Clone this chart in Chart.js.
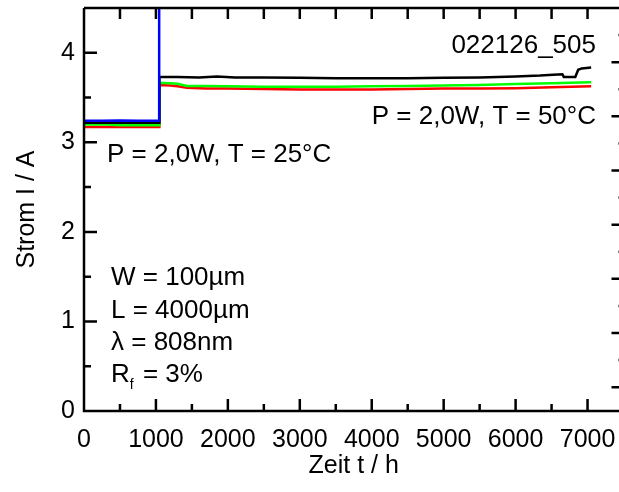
<!DOCTYPE html>
<html>
<head>
<meta charset="utf-8">
<script src="https://cdn.jsdelivr.net/npm/chart.js@4.4.1/dist/chart.umd.min.js"></script>
<style>
    html, body { margin: 0; padding: 0; background: #fff; overflow: hidden; }
    #wrap { width: 626px; height: 492px; }
</style>
</head>
<body>
<div id="wrap"><canvas id="chart"></canvas></div>
<script>
const blueTimes = [0, 250, 500, 750, 1040, 1043, 1045];
const blueValues = [3.24, 3.24, 3.245, 3.24, 3.24, 3.24, 4.8];

const blackTimes = [0, 300, 600, 900, 1043, 1048, 1300, 1600, 1850, 2100, 2500, 3000, 3500, 4000, 4500, 5000, 5500, 6000, 6340, 6520, 6650, 6670, 6830, 6870, 6920, 7050];
const blackValues = [3.22, 3.22, 3.22, 3.22, 3.22, 3.73, 3.73, 3.725, 3.735, 3.725, 3.725, 3.72, 3.715, 3.715, 3.715, 3.72, 3.725, 3.735, 3.745, 3.755, 3.76, 3.73, 3.73, 3.81, 3.825, 3.835];

const greenTimes = [0, 300, 500, 700, 1043, 1048, 1200, 1300, 1430, 1700, 2000, 2500, 3000, 3500, 4000, 4500, 5000, 5500, 6000, 6500, 7050];
const greenValues = [3.2, 3.2, 3.19, 3.19, 3.19, 3.665, 3.66, 3.655, 3.63, 3.63, 3.625, 3.62, 3.62, 3.62, 3.625, 3.63, 3.635, 3.64, 3.65, 3.66, 3.67];

const redTimes = [0, 300, 500, 700, 1043, 1048, 1200, 1300, 1430, 1700, 2000, 2500, 3000, 3500, 4000, 4500, 5000, 5500, 6000, 6500, 7050];
const redValues = [3.17, 3.17, 3.17, 3.17, 3.17, 3.64, 3.635, 3.625, 3.61, 3.6, 3.6, 3.595, 3.59, 3.59, 3.59, 3.595, 3.6, 3.6, 3.605, 3.615, 3.625];

const xTicks = [0, 1000, 2000, 3000, 4000, 5000, 6000, 7000];
const xMinorTicks = [500, 1500, 2500, 3500, 4500, 5500, 6500];
const yTicks = [0, 1, 2, 3, 4];
const yMinorTicks = [0.5, 1.5, 2.5, 3.5];
const y2Ticks = [1, 2, 3, 4, 5, 6, 7, 8];
const y2MinorTicks = [1.5, 2.5, 3.5, 4.5, 5.5, 6.5, 7.5];

const FONT = 'Liberation Sans, Arial, sans-serif';

function toPoints(times, values) {
    return times.map((t, i) => ({ x: t, y: values[i] }));
}

function series(label, times, values, color) {
    return {
        label: label,
        data: toPoints(times, values),
        borderColor: color,
        backgroundColor: color,
        borderWidth: 2.5,
        pointRadius: 0,
        tension: 0,
        fill: false
    };
}

// Rahmen mit nach innen zeigenden Ticks und Beschriftungen im Diagramm
const framePlugin = {
    id: 'frame',
    afterDraw(chart) {
        const ctx = chart.ctx;
        const a = chart.chartArea;
        const xs = chart.scales.x;
        const ys = chart.scales.y;
        const y2 = chart.scales.y2;
        ctx.save();
        ctx.strokeStyle = '#000';
        ctx.lineWidth = 2.5;
        ctx.lineCap = 'butt';

        ctx.beginPath();
        ctx.moveTo(a.left, a.top);
        ctx.lineTo(a.left, a.bottom);
        ctx.lineTo(a.right, a.bottom);
        ctx.moveTo(a.left, a.top);
        ctx.lineTo(a.right, a.top);
        ctx.moveTo(a.right, a.top);
        ctx.lineTo(a.right, a.bottom);

        // unten + oben
        xTicks.forEach(v => {
            const px = xs.getPixelForValue(v);
            ctx.moveTo(px, a.bottom); ctx.lineTo(px, a.bottom - 12);
            ctx.moveTo(px, a.top); ctx.lineTo(px, a.top + 11);
        });
        xMinorTicks.forEach(v => {
            const px = xs.getPixelForValue(v);
            ctx.moveTo(px, a.bottom); ctx.lineTo(px, a.bottom - 7);
            ctx.moveTo(px, a.top); ctx.lineTo(px, a.top + 11);
        });
        // links
        yTicks.forEach(v => {
            const py = ys.getPixelForValue(v);
            ctx.moveTo(a.left, py); ctx.lineTo(a.left + 13, py);
        });
        yMinorTicks.forEach(v => {
            const py = ys.getPixelForValue(v);
            ctx.moveTo(a.left, py); ctx.lineTo(a.left + 7, py);
        });
        // rechts
        y2Ticks.forEach(v => {
            const py = y2.getPixelForValue(v);
            ctx.moveTo(a.right, py); ctx.lineTo(a.right - 12, py);
        });
        y2MinorTicks.forEach(v => {
            const py = y2.getPixelForValue(v);
            ctx.moveTo(a.right, py); ctx.lineTo(a.right - 5, py);
        });
        ctx.stroke();

        // Texte
        ctx.fillStyle = '#000';
        ctx.font = '26px ' + FONT;
        ctx.textBaseline = 'alphabetic';
        ctx.textAlign = 'right';
        ctx.fillText('022126_505', 596, 53);
        ctx.fillText('P = 2,0W, T = 50°C', 596, 124);
        ctx.textAlign = 'left';
        ctx.fillText('P = 2,0W, T = 25°C', 107, 162);
        ctx.fillText('W = 100µm', 111, 285);
        ctx.fillText('L = 4000µm', 111, 318);
        ctx.fillText('λ = 808nm', 111, 350);

        // R_f = 3%
        ctx.fillText('R', 111, 382);
        let w = ctx.measureText('R').width;
        ctx.font = '14px ' + FONT;
        ctx.fillText('f', 111 + w, 389);
        w += ctx.measureText('f').width + 2;
        ctx.font = '26px ' + FONT;
        ctx.fillText(' = 3%', 111 + w, 382);
        ctx.restore();
    }
};

const ctx = document.getElementById('chart').getContext('2d');
new Chart(ctx, {
    type: 'line',
    data: {
        datasets: [
            series('blau', blueTimes, blueValues, '#0000ff'),
            series('schwarz', blackTimes, blackValues, '#000000'),
            series('grün', greenTimes, greenValues, '#00ff00'),
            series('rot', redTimes, redValues, '#ff0000')
        ]
    },
    options: {
        responsive: true,
        maintainAspectRatio: false,
        animation: false,
        layout: { padding: { top: 8, right: 0, bottom: 0, left: 0 } },
        plugins: {
            legend: { display: false },
            tooltip: { enabled: false }
        },
        scales: {
            x: {
                type: 'linear',
                min: 0,
                max: 7500,
                grid: { display: false, drawTicks: false },
                border: { display: false },
                afterFit: s => { s.height = 81; s.paddingLeft = 0; s.paddingRight = 0; },
                afterBuildTicks: s => { s.ticks = xTicks.map(v => ({ value: v })); },
                ticks: {
                    color: '#000',
                    padding: 14,
                    maxRotation: 0,
                    font: { family: FONT, size: 25 },
                    callback: v => String(v)
                },
                title: {
                    display: true,
                    text: 'Zeit t / h',
                    color: '#000',
                    font: { family: FONT, size: 25 },
                    padding: { top: 0, bottom: 11 }
                }
            },
            y: {
                type: 'linear',
                min: 0,
                max: 4.5,
                grid: { display: false, drawTicks: false },
                border: { display: false },
                afterFit: s => { s.width = 84; s.paddingTop = 0; s.paddingBottom = 0; },
                afterBuildTicks: s => { s.ticks = yTicks.map(v => ({ value: v })); },
                ticks: {
                    color: '#000',
                    padding: 9,
                    font: { family: FONT, size: 25 },
                    callback: v => String(v)
                },
                title: {
                    display: true,
                    text: 'Strom I / A',
                    color: '#000',
                    font: { family: FONT, size: 25 },
                    padding: { top: 12, bottom: 0 }
                }
            },
            y2: {
                type: 'linear',
                position: 'right',
                min: 0.56,
                max: 8,
                grid: { display: false, drawTicks: false },
                border: { display: false },
                ticks: { display: false },
                afterFit: s => { s.width = 2.5; s.paddingTop = 0; s.paddingBottom = 0; }
            }
        }
    },
    plugins: [framePlugin]
});
</script>
</body>
</html>
